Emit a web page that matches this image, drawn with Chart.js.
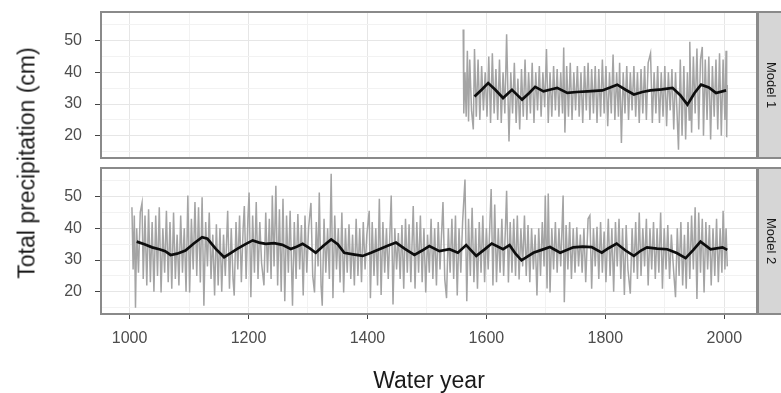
<!DOCTYPE html>
<html>
<head>
<meta charset="utf-8">
<script src="https://cdn.jsdelivr.net/npm/chart.js@4.4.1/dist/chart.umd.min.js"></script>
<style>
  html, body { margin: 0; padding: 0; background: #ffffff; }
  #wrap { position: relative; width: 781px; height: 393px; overflow: hidden; font-family: "Liberation Sans", Arial, sans-serif; }
  canvas { position: absolute; left: 0; }
  .ytitle { position: absolute; left: 27px; top: 163px; transform: translate(-50%, -50%) rotate(-90deg); font-size: 23px; color: #1a1a1a; white-space: nowrap; }
  .strip { position: absolute; left: 771px; transform: translate(-50%, -50%) rotate(90deg); font-size: 13px; color: #1a1a1a; white-space: nowrap; }
</style>
</head>
<body>
<div id="wrap">
  <canvas id="c1" width="781" height="160" style="top:0px"></canvas>
  <canvas id="c2" width="781" height="233" style="top:160px"></canvas>
  <div class="ytitle">Total precipitation (cm)</div>
  <div class="strip" style="top:85px">Model 1</div>
  <div class="strip" style="top:241px">Model 2</div>
</div>
<script>
// ---- Data ----
const panelNames = ["Model 1", "Model 2"];
const xTickLabels = [1000, 1200, 1400, 1600, 1800, 2000];
const xGridValues = [1000, 1100, 1200, 1300, 1400, 1500, 1600, 1700, 1800, 1900, 2000];
const yTickLabels = [20, 30, 40, 50];
const yGridValues = [15, 20, 25, 30, 35, 40, 45, 50, 55];

// Model 1 annual (approximate)
const years1 = [1561,1562,1564,1566,1568,1570,1572,1575,1578,1580,1583,1586,1589,1592,1595,1598,1601,1604,1607,1610,1613,1616,1619,1622,1625,1628,1631,1634,1638,1641,1644,1647,1650,1653,1656,1659,1662,1665,1668,1671,1674,1677,1680,1683,1686,1689,1692,1695,1698,1701,1704,1707,1710,1713,1716,1719,1722,1725,1728,1730,1732,1735,1738,1741,1744,1747,1750,1753,1756,1759,1762,1765,1768,1771,1774,1777,1780,1783,1786,1789,1792,1795,1798,1801,1804,1807,1810,1813,1816,1819,1822,1824,1827,1830,1833,1836,1839,1842,1845,1848,1851,1854,1857,1860,1863,1866,1869,1872,1876,1879,1882,1885,1888,1891,1894,1897,1900,1903,1906,1909,1912,1915,1918,1921,1923,1926,1929,1932,1935,1938,1941,1942,1945,1948,1951,1954,1957,1960,1963,1965,1968,1971,1974,1977,1980,1983,1986,1989,1992,1995,1998,2001,2003,2004,2005];
const precip1 = [53.5,27,40,26,46.8,24.5,44,28,22,47.3,26,44,25,42,28,40,26,45,24,46,27,41,25,44,24,40,27,52,18.2,40,27,43,24,38,22,41,26,44,25,40,27,43,24,40,28,42,26,40,29,47.3,24,40,26,42,28,41,26,40,27,47.8,21,42,26,43,25,40,28,42,26,40,24,42,28,43,25,41,27,42,24,41,26,44,27,42,23,40,27,45.6,25,40,26,43,17.7,40,27,42,25,40,28,42,26,40,24,41,27,42,25,43,46,24,40,27,42,24,40,26,42,23,40,28,41,22,40,25,15.6,44,20,42,18.8,40,25,49.6,21,45,27,47.5,22,44,48,20,44,25,45,18.8,42,26,44,22,46,20,44,25,46.8,19.5,36];

// Model 1 smoothed
const smoothYears1 = [1580,1592,1603,1615,1628,1643,1660,1672,1682,1696,1708,1719,1736,1752,1770,1795,1808,1820,1834,1848,1862,1876,1895,1913,1926,1938,1950,1961,1974,1986,2003];
const smooth1 = [32.4,34.5,36.6,34.5,31.9,34.5,31.4,33.5,35.4,34,34.6,35.1,33.5,33.8,34,34.3,35.2,36.1,34.5,33,33.8,34.3,34.6,35.1,32.8,29.8,33.5,36.1,35.2,33.5,34.3];

// Model 2 annual (approximate)
const years2 = [1004,1006,1008,1010,1012,1015,1018,1021,1023,1026,1029,1032,1035,1038,1041,1044,1047,1050,1053,1056,1059,1062,1065,1068,1071,1074,1077,1080,1083,1086,1089,1092,1095,1098,1101,1104,1107,1110,1113,1116,1119,1122,1125,1128,1131,1134,1137,1140,1143,1146,1149,1152,1155,1158,1161,1165,1168,1171,1174,1176,1179,1182,1185,1188,1191,1193,1196,1199,1201,1204,1207,1210,1213,1216,1219,1222,1226,1229,1232,1235,1238,1240,1243,1246,1249,1252,1255,1258,1261,1264,1267,1270,1274,1277,1280,1283,1286,1289,1292,1295,1298,1301,1305,1308,1311,1314,1317,1319,1322,1324,1327,1330,1333,1336,1339,1342,1345,1348,1351,1354,1357,1360,1363,1366,1369,1372,1375,1378,1381,1384,1387,1390,1393,1396,1399,1403,1405,1408,1411,1414,1417,1420,1423,1426,1429,1432,1435,1440,1443,1446,1449,1452,1455,1458,1461,1464,1467,1470,1473,1477,1480,1483,1486,1489,1492,1495,1498,1501,1504,1507,1510,1513,1516,1519,1522,1527,1530,1533,1536,1539,1542,1545,1548,1551,1554,1557,1560,1564,1567,1570,1573,1576,1579,1582,1585,1588,1591,1594,1597,1600,1603,1606,1608,1611,1614,1617,1620,1623,1626,1629,1632,1634,1637,1640,1643,1646,1649,1652,1655,1658,1661,1664,1667,1670,1673,1676,1679,1682,1685,1688,1691,1694,1697,1699,1702,1704,1707,1710,1713,1716,1719,1722,1725,1729,1731,1734,1737,1740,1743,1746,1749,1752,1755,1758,1761,1764,1767,1771,1774,1777,1780,1783,1786,1789,1792,1795,1798,1801,1805,1808,1811,1814,1817,1820,1823,1826,1829,1832,1835,1838,1842,1845,1848,1851,1854,1857,1860,1863,1866,1869,1872,1875,1878,1881,1884,1887,1890,1893,1896,1899,1902,1905,1908,1911,1915,1918,1921,1924,1927,1930,1933,1936,1939,1942,1945,1948,1951,1954,1957,1960,1963,1966,1969,1972,1975,1978,1981,1984,1987,1990,1993,1996,1998,2001,2003,2005];
const precip2 = [46.6,27,44,15,40,26,45,48,24,44,22,46,23,42,20,44,25,46.6,19.8,40,26,45.5,23,42,21,45,24,38,22,44,26,40,20,50.3,19.8,43,27,48.3,25,46.6,22.9,49.8,15.6,42,28,45,24,38,18.8,41.3,22,40,20,38,25,45.5,21,40,24,18.8,42,27,44,23,40,47,24,43,51.3,18.3,44,26,48.3,24,42,29,22,45,26,43,24,50.3,28,53.4,22,46,20,49.3,17,44,26,45.5,15.6,42,24,44.5,27,41,18.8,44,26,40,48,25,19.8,42,28,51.3,22,15.6,43,26,40,24,57.2,18,44,27,40,22.9,45,19.8,40,26,41.3,24,38,22,43,25,40,23,42,27,38,45.5,18,42,25,40,22,49.3,19,42,26,40,24,50.3,16,40,27,38.5,24,41,21,43,26,41.3,23,47,21,42,26,44,23,40,19.8,38,26,43,24,40,22,42,27,48.3,24,18,40,26,43,24,44,18.8,40,26,42,55.4,17,43,25,46.5,23,40,21,42,26,44,23,40,27,42,52.4,22,47.5,23,40,26,43,25,40,51.8,22.9,42,26,43,25,44,23.9,40,28,44,25,41,23,40,27,38,18.8,40,25,42,28,50.3,21,51,19.8,40,27,42,26,40,28,50.3,16.7,41,27,42,24,40,26,40.3,28,38,26,40,23,43,44,21,40,28,40.5,24,42,26,39,23,43,25,40,20,42,28,43,24,40,19,41,27,19.4,40,26,42,24,45,25,40,28,43,22,40,27,42,24,40,26,45,21,40,27,41,24,38,26,18.3,40,25,42,22,38,21,42,24,44,27,46.6,17.7,45,26,43,19.8,42,27,41,22,40,25,43,23,40,26,45.5,27,40,28];

// Model 2 smoothed
const smoothYears2 = [1012,1025,1038,1050,1060,1069,1080,1094,1108,1122,1131,1145,1159,1170,1181,1195,1207,1218,1229,1243,1257,1271,1281,1291,1302,1313,1326,1339,1350,1361,1376,1392,1406,1420,1434,1448,1463,1479,1492,1504,1521,1538,1552,1566,1583,1596,1609,1628,1639,1649,1659,1679,1693,1707,1724,1746,1762,1777,1794,1806,1819,1834,1848,1860,1870,1887,1904,1920,1935,1948,1960,1977,1997,2005];
const smooth2 = [35.8,35,34,33.4,32.8,31.6,32,33,35.2,37.2,36.7,33.5,30.9,32.2,33.5,35,36.2,35.5,35.1,35.3,34.8,33.5,34.2,35.1,33.8,32.3,34.5,36.5,35,32.3,31.8,31.3,32.3,33.4,34.5,35.5,33.5,31.6,33,34.4,32.8,33.4,32.3,34.7,31.3,33.2,35.2,33.4,34.7,32,29.9,32.3,33.2,34.1,32.3,34,34.2,34.1,32.3,33.8,35.2,33,31.3,33,34,33.6,33.4,32.2,30.6,33.2,35.8,33.4,34,33.2];

// ---- Helpers ----
const toPts = (xs, ys) => xs.map((x, i) => ({ x: x, y: ys[i] }));
const FONT = "'Liberation Sans', Arial, sans-serif";

const panelFrame = {
  id: 'panelFrame',
  afterDraw(chart) {
    const ctx = chart.ctx, a = chart.chartArea;
    ctx.save();
    ctx.fillStyle = '#d6d6d6';
    ctx.fillRect(a.right + 2, a.top, 40, a.bottom - a.top);
    ctx.strokeStyle = '#8a8a8a';
    ctx.lineWidth = 2;
    ctx.strokeRect(a.left, a.top, a.right - a.left, a.bottom - a.top);
    ctx.strokeRect(a.right + 1, a.top, 40, a.bottom - a.top);
    ctx.restore();
  }
};

function makeChart(id, years, vals, sYears, sVals, isBottom) {
  const majorX = v => xTickLabels.includes(v);
  const majorY = v => yTickLabels.includes(v);
  return new Chart(document.getElementById(id), {
    type: 'line',
    data: {
      datasets: [
        { data: toPts(years, vals), order: 2, borderColor: '#a4a4a4', borderWidth: 1.5, pointRadius: 0, tension: 0 },
        { data: toPts(sYears, sVals), order: 1, borderColor: '#0d0d0d', borderWidth: 2.7, pointRadius: 0, tension: 0 }
      ]
    },
    options: {
      responsive: false,
      animation: false,
      events: [],
      layout: { padding: { top: isBottom ? 8 : 12, right: 24, bottom: isBottom ? 0 : 2, left: 0 } },
      plugins: { legend: { display: false }, tooltip: { enabled: false } },
      scales: {
        x: {
          type: 'linear', min: 952, max: 2055,
          afterBuildTicks: s => { s.ticks = xGridValues.map(v => ({ value: v })); },
          afterFit: s => { s.height = isBottom ? 79 : 0; s.paddingLeft = 0; s.paddingRight = 0; },
          border: { display: false },
          grid: {
            color: c => majorX(c.tick.value) ? '#e6e6e6' : '#f2f2f2',
            lineWidth: 1,
            drawTicks: isBottom,
            tickLength: 5,
            tickColor: c => majorX(c.tick.value) ? '#444444' : 'rgba(0,0,0,0)'
          },
          ticks: {
            display: isBottom, includeBounds: false, maxRotation: 0, minRotation: 0, autoSkip: false,
            padding: 10, color: '#4d4d4d', font: { family: FONT, size: 16 },
            callback: v => majorX(v) ? String(v) : ''
          },
          title: {
            display: isBottom, text: 'Water year', color: '#1a1a1a',
            font: { family: FONT, size: 23, lineHeight: 1 }, padding: { top: 0, bottom: 0 }
          }
        },
        y: {
          type: 'linear', min: 13, max: 59,
          afterBuildTicks: s => { s.ticks = yGridValues.map(v => ({ value: v })); },
          afterFit: s => { s.width = 101; s.paddingTop = 0; s.paddingBottom = 0; },
          border: { display: false },
          grid: {
            color: c => majorY(c.tick.value) ? '#e6e6e6' : '#f2f2f2',
            lineWidth: 1,
            tickLength: 6,
            tickColor: c => majorY(c.tick.value) ? '#444444' : 'rgba(0,0,0,0)'
          },
          ticks: {
            includeBounds: false, autoSkip: false, padding: 13,
            color: '#4d4d4d', font: { family: FONT, size: 16 },
            callback: v => majorY(v) ? String(v) : ''
          }
        }
      }
    },
    plugins: [panelFrame]
  });
}

makeChart('c1', years1, precip1, smoothYears1, smooth1, false);
makeChart('c2', years2, precip2, smoothYears2, smooth2, true);
</script>
</body>
</html>
